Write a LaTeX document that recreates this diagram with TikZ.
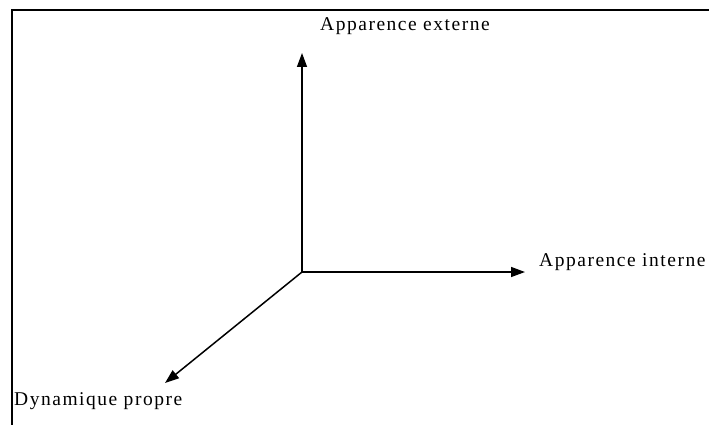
\documentclass[tikz,border=0pt]{standalone}
\usepackage{fontspec}
\setmainfont{Liberation Serif}[LetterSpace=7.8]
\usetikzlibrary{arrows.meta}
\begin{document}
\begin{tikzpicture}[x=1pt,y=-1pt,
  axis/.style={line width=1.5pt,-{Triangle[length=14pt,width=10pt]}},
  lab/.style={font=\fontsize{19.5}{22}\selectfont,inner sep=0pt,anchor=base west}]
\useasboundingbox (0,0) rectangle (709,425);
\draw[line width=2pt] (12,425) -- (12,10) -- (709,10);
\coordinate (o) at (302,272);
\coordinate (up) at (302,53);
\coordinate (rt) at (525,272);
\coordinate (dl) at (165,383);
\draw[axis] (o) -- (up);
\draw[axis] (o) -- (rt);
\draw[axis] (o) -- (dl);
\node[lab] (ext) at (320,31) {Apparence externe};
\node[lab] (int) at (539,266) {Apparence interne};
\node[lab] (dyn) at (14,405) {Dynamique propre};
\end{tikzpicture}
\end{document}
